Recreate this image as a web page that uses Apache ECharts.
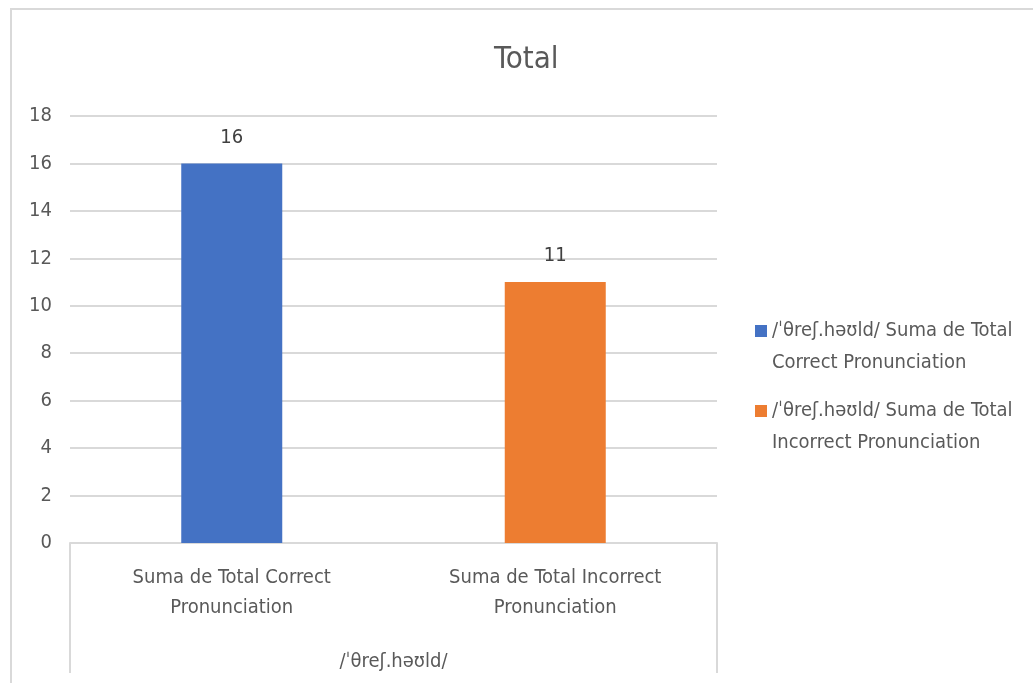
<!DOCTYPE html>
<html style="height: 100%">
<head>
    <meta charset="utf-8">
    <script src="https://cdn.jsdelivr.net/npm/echarts@6/dist/echarts.min.js"></script>
</head>
<body style="height: 100%; margin: 0; background: #fff;">
<div id="container" style="width: 1033px; height: 683px;"></div>
<script type="text/javascript">
    // 数据
    var categories = ['Suma de Total Correct\nPronunciation', 'Suma de Total Incorrect\nPronunciation'];
    var groupLabel = ['/\u02C8\u03B8re\u0283.h\u0259\u028Ald/'];
    var seriesNames = [
        '/\u02C8\u03B8re\u0283.h\u0259\u028Ald/ Suma de Total\nCorrect Pronunciation',
        '/\u02C8\u03B8re\u0283.h\u0259\u028Ald/ Suma de Total\nIncorrect Pronunciation'
    ];
    var correctValues = [16, '-'];
    var incorrectValues = ['-', 11];
    var yTicks = [0, 18, 2]; // min, max, interval

    var font = '"DejaVu Sans Condensed", "Liberation Sans Narrow", sans-serif';
    var gray = '#595959';
    var lineGray = '#d9d9d9';

    var myChart = echarts.init(document.getElementById('container'));

    var option = {
        backgroundColor: '#fff',
        textStyle: { fontFamily: font },
        title: {
            text: 'Total',
            left: 489,
            top: 39,
            textStyle: { fontFamily: font, fontSize: 31, fontWeight: 'normal', color: gray }
        },
        graphic: [{
            type: 'rect',
            shape: { x: 11, y: 9, width: 1040, height: 700 },
            style: { fill: 'none', stroke: lineGray, lineWidth: 2 },
            silent: true
        }],
        legend: {
            orient: 'vertical',
            left: 755,
            top: 283,
            padding: 0,
            itemGap: -16,
            itemWidth: 12,
            itemHeight: 12,
            icon: 'rect',
            data: seriesNames,
            // 空行让图标对齐第一行文字
            formatter: function (name) { return '\n' + name; },
            textStyle: {
                fontFamily: font,
                fontSize: 20,
                color: gray,
                lineHeight: 32
            }
        },
        grid: { left: 70, right: 316, top: 116, bottom: 140, containLabel: false },
        xAxis: [{
            type: 'category',
            data: categories,
            position: 'bottom',
            axisLine: { show: true, lineStyle: { color: lineGray, width: 2 } },
            axisTick: { show: false },
            axisLabel: {
                margin: 20,
                fontFamily: font,
                fontSize: 20,
                lineHeight: 30,
                color: gray,
                interval: 0
            }
        }, {
            type: 'category',
            data: groupLabel,
            position: 'bottom',
            axisLine: { show: false },
            axisTick: { show: true, length: 130, lineStyle: { color: lineGray, width: 2 } },
            axisLabel: {
                margin: 104,
                fontFamily: font,
                fontSize: 20,
                lineHeight: 30,
                color: gray
            },
            splitLine: { show: false }
        }],
        yAxis: {
            type: 'value',
            min: yTicks[0],
            max: yTicks[1],
            interval: yTicks[2],
            axisLine: { show: false },
            axisTick: { show: false },
            axisLabel: { margin: 18, fontFamily: font, fontSize: 20, color: gray },
            splitLine: { lineStyle: { color: lineGray, width: 2 } }
        },
        series: [{
            name: seriesNames[0],
            type: 'bar',
            stack: 'total',
            barWidth: 101,
            data: correctValues,
            itemStyle: { color: '#4472C4' },
            label: { show: true, position: 'top', distance: 16, fontFamily: font, fontSize: 20, color: '#404040' }
        }, {
            name: seriesNames[1],
            type: 'bar',
            stack: 'total',
            barWidth: 101,
            data: incorrectValues,
            itemStyle: { color: '#ED7D31' },
            label: { show: true, position: 'top', distance: 16, fontFamily: font, fontSize: 20, color: '#404040' }
        }]
    };

    myChart.setOption(option);
</script>
</body>
</html>
